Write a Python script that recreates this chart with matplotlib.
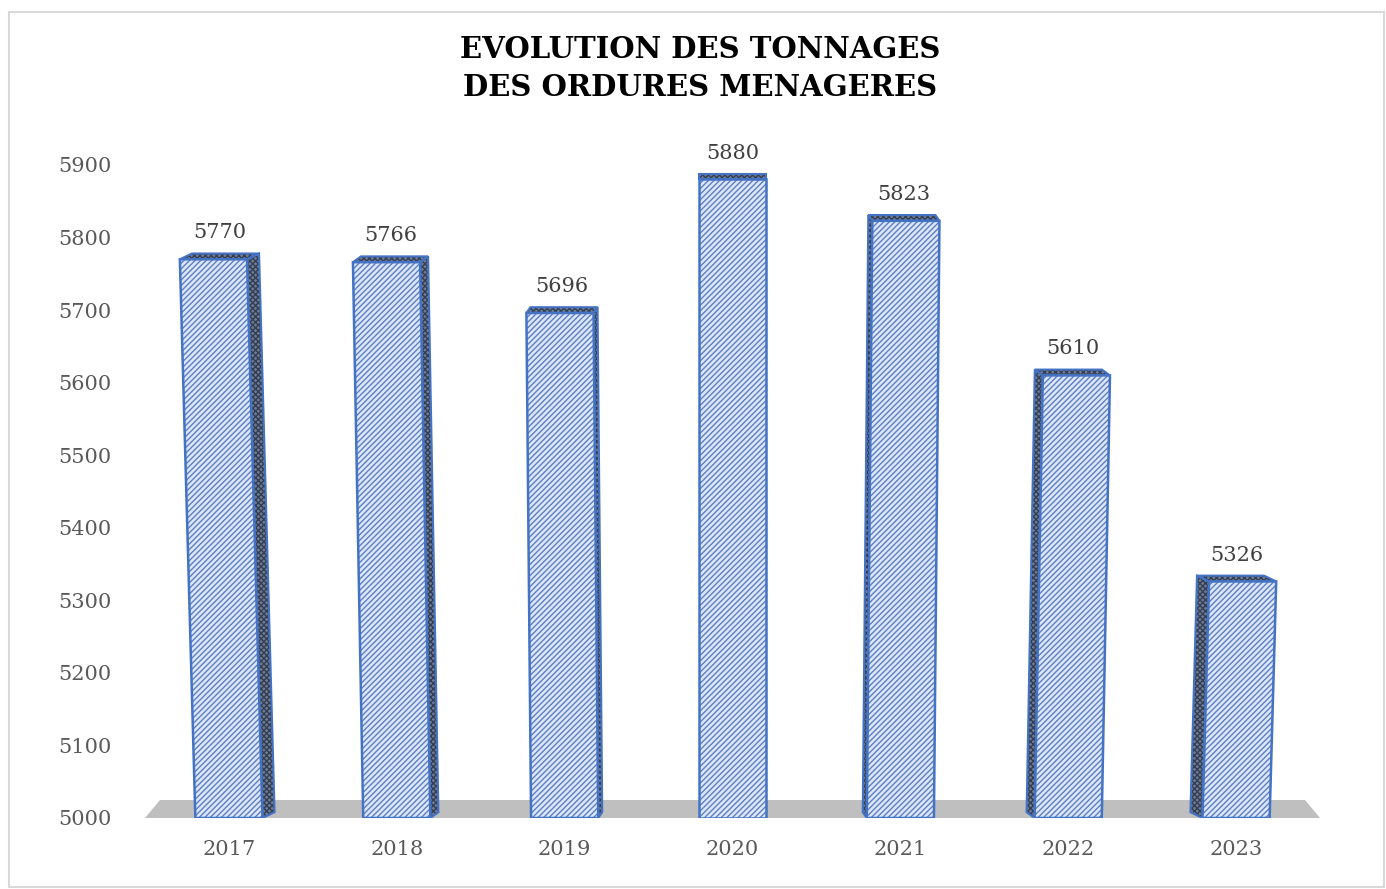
import numpy as np
import matplotlib.pyplot as plt
from matplotlib.patches import Polygon, Rectangle

# données
annees = ['2017', '2018', '2019', '2020', '2021', '2022', '2023']
tonnages = [5770, 5766, 5696, 5880, 5823, 5610, 5326]
yticks = [5000, 5100, 5200, 5300, 5400, 5500, 5600, 5700, 5800, 5900]

plt.rcParams['hatch.linewidth'] = 1.0
plt.rcParams['font.family'] = ['DejaVu Serif']

fig = plt.figure(figsize=(13.86, 8.89), dpi=100)
ax = fig.add_axes([145/1386, 1-818/889, 1175/1386, (818-128.7)/889])
ax.set_xlim(-0.5, 6.5)
ax.set_ylim(5000, 5950)

base = 5000
w = 0.4
skew = 4e-5       # inclinaison de la face avant (effet perspective)
dx_unit = 0.024   # profondeur horizontale par rang
dy = 8.0          # profondeur verticale

# sol gris
m = 15/168
ax.add_patch(Polygon([(-0.5, base), (6.5, base), (6.5-m, base+24.8), (-0.5+m, base+24.8)],
                     closed=True, facecolor='#bfbfbf', edgecolor='none', zorder=1))

blue = '#4472c4'
for i, v in enumerate(tonnages):
    d = i - 3
    s = skew * d * (v - base)
    dx = -dx_unit * d
    bl = (i - w/2, base)
    br = (i + w/2, base)
    tl = (i - w/2 + s, v)
    tr = (i + w/2 + s, v)
    # face latérale
    if d < 0:
        side = [br, (br[0]+dx, br[1]+dy), (tr[0]+dx, tr[1]+dy), tr]
    elif d > 0:
        side = [bl, (bl[0]+dx, bl[1]+dy), (tl[0]+dx, tl[1]+dy), tl]
    else:
        side = None
    top = [tl, tr, (tr[0]+dx, tr[1]+dy), (tl[0]+dx, tl[1]+dy)]
    for poly in [p for p in (side, top) if p is not None]:
        ax.add_patch(Polygon(poly, closed=True, facecolor='#6f7c95', edgecolor='#333e52',
                             hatch='xxxxxx', lw=0, zorder=2))
        ax.add_patch(Polygon(poly, closed=True, facecolor='none', edgecolor=blue,
                             lw=1.5, zorder=3))
    # face avant
    front = [bl, br, tr, tl]
    ax.add_patch(Polygon(front, closed=True, facecolor='#dde6f5', edgecolor='#5b80c8',
                         hatch='//////', lw=0, zorder=4))
    ax.add_patch(Polygon(front, closed=True, facecolor='none', edgecolor=blue,
                         lw=1.8, zorder=5))
    ax.annotate(str(v), (i + s + dx/2, v + dy), xytext=(0, 8), textcoords='offset points',
                ha='center', va='bottom', fontsize=15, color='#404040')

ax.set_xticks(range(len(annees)))
ax.set_xticklabels(annees)
ax.set_yticks(yticks)
ax.tick_params(axis='x', length=0, pad=16, labelsize=15, labelcolor='#595959')
ax.tick_params(axis='y', length=0, pad=24, labelsize=15, labelcolor='#595959')
for sp in ax.spines.values():
    sp.set_visible(False)

fig.text(0.505, 1-50/889, 'EVOLUTION DES TONNAGES', ha='center', va='center',
         fontsize=21, fontweight='bold', color='#000000')
fig.text(0.505, 1-88/889, 'DES ORDURES MENAGERES', ha='center', va='center',
         fontsize=21, fontweight='bold', color='#000000')

fig.patches.append(Rectangle((9/1386, 2/889), 1-11/1386, 1-14/889, transform=fig.transFigure,
                             fill=False, edgecolor='#d9d9d9', lw=1.5))

fig.savefig('out.png', dpi=100)
